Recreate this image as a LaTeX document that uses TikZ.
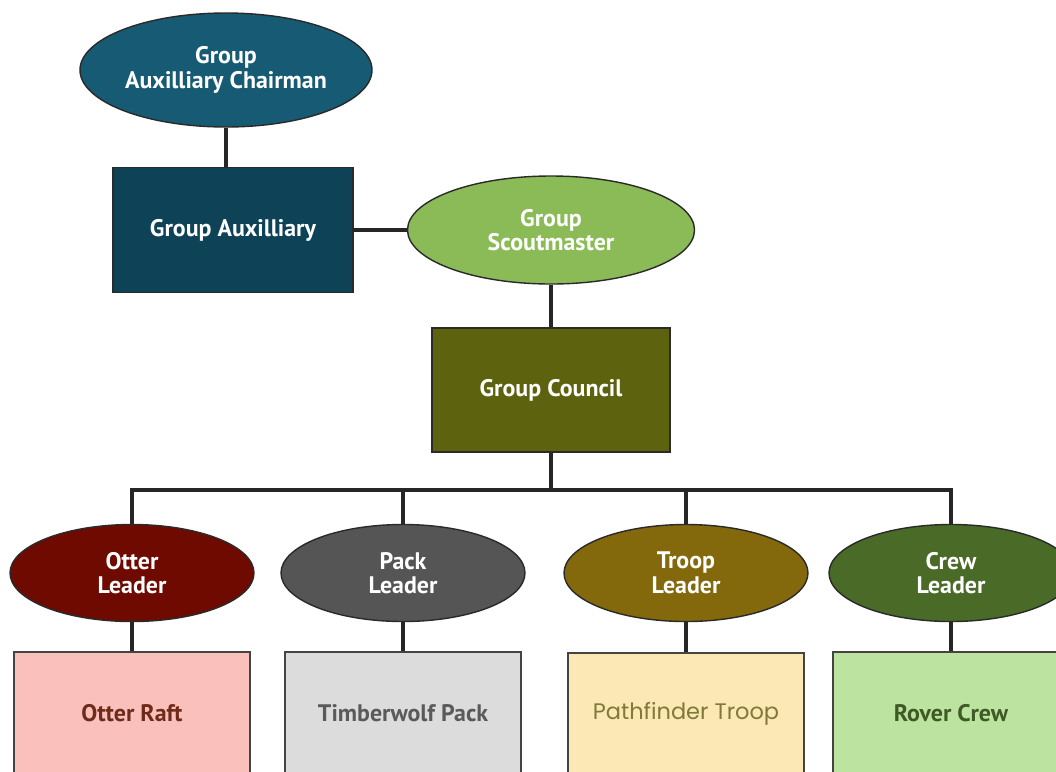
\documentclass[tikz,border=0pt]{standalone}
\usepackage{fontspec}
\setmainfont{PT Sans}
\newfontfamily\geofont{Poppins}
\usetikzlibrary{shapes.geometric}
\definecolor{chairC}{HTML}{175A74}
\definecolor{auxC}{HTML}{0D4257}
\definecolor{smC}{HTML}{8BBB57}
\definecolor{gcC}{HTML}{5C620E}
\definecolor{otterC}{HTML}{6E0A00}
\definecolor{packC}{HTML}{555555}
\definecolor{troopC}{HTML}{83680C}
\definecolor{crewC}{HTML}{4A6A27}
\definecolor{otterBox}{HTML}{F9C0BC}
\definecolor{packBox}{HTML}{DCDCDC}
\definecolor{troopBox}{HTML}{FBE8B5}
\definecolor{crewBox}{HTML}{BDE3A0}
\definecolor{otterTxt}{HTML}{6E2A1A}
\definecolor{packTxt}{HTML}{5A5A5A}
\definecolor{troopTxt}{HTML}{7F7A38}
\definecolor{crewTxt}{HTML}{3F5A25}
\definecolor{edgeC}{HTML}{2A2A2A}
\newlength{\pxu}
\setlength{\pxu}{0.025cm}
\tikzset{
  oval/.style={ellipse, draw=edgeC, line width=1pt, inner sep=0pt, text=white,
    font=\bfseries\fontsize{17}{17.5}\selectfont, align=center},
  topbox/.style={rectangle, draw=edgeC, line width=1pt, inner sep=0pt, text=white,
    font=\bfseries\fontsize{17}{18}\selectfont, align=center},
  unitbox/.style={rectangle, draw=edgeC!70!gray, line width=1pt, inner sep=0pt,
    minimum width=236\pxu, minimum height=122\pxu, font=\bfseries\fontsize{17}{18}\selectfont},
  leader/.style={oval, minimum width=244\pxu, minimum height=97\pxu},
  link/.style={line width=2.6pt, black!85}
}
\begin{document}
\begin{tikzpicture}[x=0.025cm, y=-0.025cm]
\useasboundingbox (0,0) rectangle (1056,771);
\clip (0,0) rectangle (1056,771);
% top part
\node[oval, fill=chairC, minimum width=292\pxu, minimum height=114\pxu] (ch) at (226,70) {Group\\Auxilliary Chairman};
\node[topbox, fill=auxC, minimum width=240\pxu, minimum height=125\pxu] (ga) at (233,230) {Group Auxilliary};
\node[oval, fill=smC, minimum width=287\pxu, minimum height=108\pxu] (gs) at (551,230) {Group\\Scoutmaster};
\node[topbox, fill=gcC, minimum width=238\pxu, minimum height=124\pxu] (gc) at (551,390) {Group Council};
% leaders
\node[leader, fill=otterC] (ol) at (132,573) {Otter\\Leader};
\node[leader, fill=packC] (pl) at (403,573) {Pack\\Leader};
\node[leader, fill=troopC] (tl) at (686,573) {Troop\\Leader};
\node[leader, fill=crewC] (cl) at (951,573) {Crew\\Leader};
% units
\node[unitbox, fill=otterBox, text=otterTxt] (orf) at (132,713) {Otter Raft};
\node[unitbox, fill=packBox, text=packTxt] (tp) at (403,713) {Timberwolf Pack};
\node[unitbox, fill=troopBox, text=troopTxt, font=\geofont\fontsize{16}{18}\selectfont] (pt) at (686,714) {Pathfinder Troop};
\node[unitbox, fill=crewBox, text=crewTxt] (rc) at (951,713) {Rover Crew};
\coordinate (bus) at (0,490);
% connectors
\draw[link] (ch.south) -- (ch.south |- ga.north);
\draw[link] (ga.east) -- (gs.west);
\draw[link] (gs.south) -- (gc.north);
\draw[link] (gc.south) -- (gc.south |- bus);
\draw[link] (ol.north) -- (ol.north |- bus) -- (cl.north |- bus) -- (cl.north);
\draw[link] (pl.north) -- (pl.north |- bus);
\draw[link] (tl.north) -- (tl.north |- bus);
\draw[link] (ol.south) -- (orf.north);
\draw[link] (pl.south) -- (tp.north);
\draw[link] (tl.south) -- (pt.north);
\draw[link] (cl.south) -- (rc.north);
\end{tikzpicture}
\end{document}
